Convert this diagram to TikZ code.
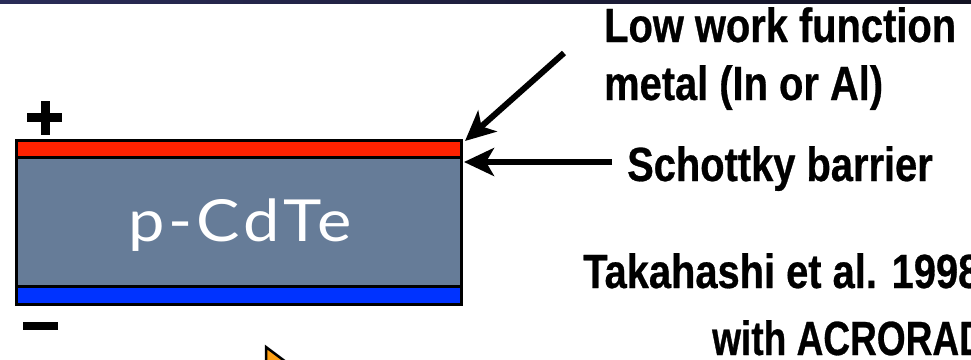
\documentclass[tikz,border=0pt]{standalone}
\usepackage{fontspec}
\setmainfont{Liberation Sans}
\newfontfamily\labfont[FakeStretch=0.83,FakeBold=0.6]{Liberation Sans}
\newfontfamily\cdfont[LetterSpace=6]{Lato}
\usetikzlibrary{arrows.meta}
\definecolor{metalred}{RGB}{255,34,0}
\definecolor{metalblue}{RGB}{0,51,255}
\definecolor{cdgray}{RGB}{102,124,152}
\definecolor{bartopl}{RGB}{42,44,88}
\definecolor{bartopr}{RGB}{18,18,34}
\definecolor{cursorfill}{RGB}{255,160,20}
\tikzset{
  layer/.style={draw=black, line width=3.5pt},
  lab/.style={anchor=base west, inner sep=0pt, font=\labfont\bfseries\fontsize{48}{48}\selectfont},
  bigarrow/.style={line width=6pt, -{Stealth[length=30pt,width=28pt,inset=8pt]}},
  signbar/.style={fill=black, draw=none}
}
\begin{document}
\begin{tikzpicture}[x=1pt,y=-1pt]
\useasboundingbox (0,0) rectangle (971,359);
\fill[left color=bartopl, right color=bartopr] (0,0) rectangle (971,3.5);
% layers
\path[layer, fill=cdgray] (16.5,157.5) rectangle (461.5,286.5);
\node[inner sep=0pt, minimum width=445pt, minimum height=129pt] (cdte) at (239,222) {};
\path[layer, fill=metalred] (16.5,140.5) rectangle (461.5,157.5);
\node[inner sep=0pt, minimum width=445pt, minimum height=17pt] (metal) at (239,149) {};
\path[layer, fill=metalblue] (16.5,286.5) rectangle (461.5,304.5);
\node[inner sep=0pt, minimum width=445pt, minimum height=18pt] (back) at (239,295.5) {};
\node[anchor=base, inner sep=0pt, text=white, font=\cdfont\fontsize{58}{58}\selectfont] (cdlabel) at (240,241) {\scalebox{1.12}[1]{p-CdTe}};
% signs
\fill[signbar] (27,113) rectangle (62,122);
\fill[signbar] (40.5,101) rectangle (49.5,135);
\fill[signbar] (23,322) rectangle (58,330);
% labels
\node[lab] (lw1) at (604,42) {Low work function};
\node[lab] (lw2) at (604,100) {metal (In or Al)};
\node[lab] (sb) at (627,181) {Schottky barrier};
\node[lab] (tk) at (583,288) {Takahashi et al. 1998};
\node[lab] (ac) at (712,355) {\scalebox{0.93}[1]{with ACRORAD}};
% arrows
\coordinate (lwtail) at (564,53);
\coordinate (lwtip) at (465,141);
\coordinate (sbtail) at (612,162);
\coordinate (sbtip) at (464,162);
\draw[bigarrow] (lwtail) -- (lwtip);
\draw[bigarrow] (sbtail) -- (sbtip);
% cursor
\filldraw[fill=cursorfill, draw=black, line width=2.5pt, line join=miter] (266,347) -- (266,375) -- (286,362) -- cycle;
\end{tikzpicture}
\end{document}
